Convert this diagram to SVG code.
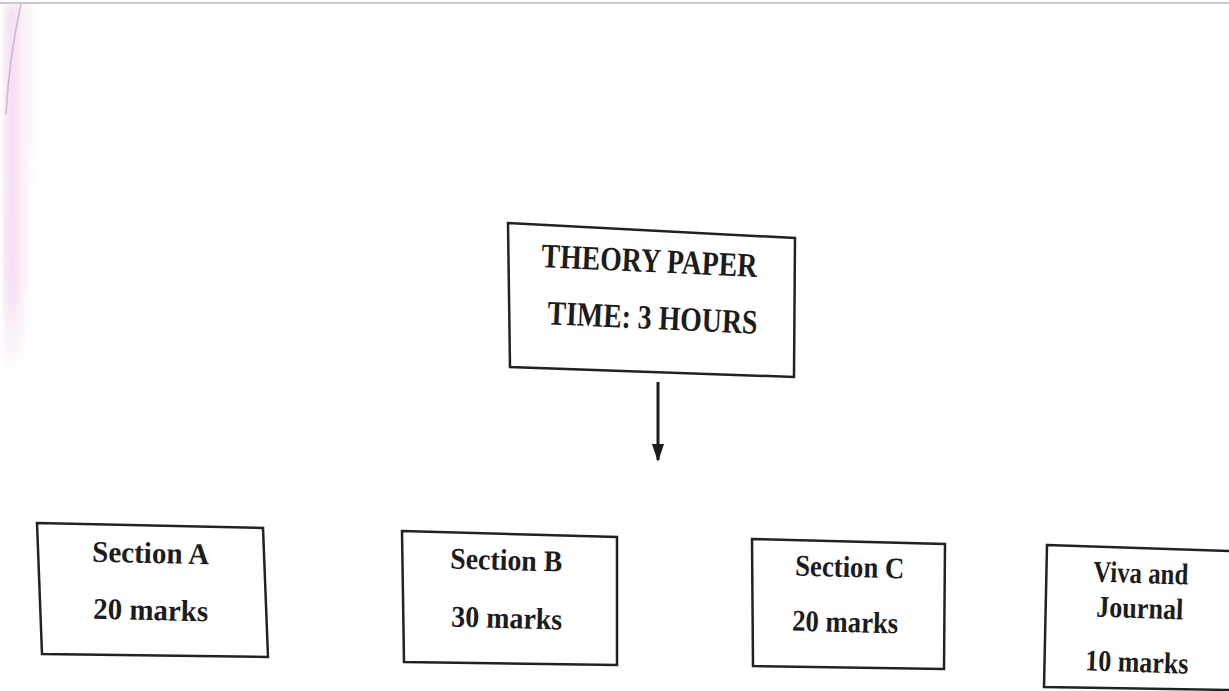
<svg xmlns="http://www.w3.org/2000/svg" width="1229" height="691" viewBox="0 0 1229 691">
<defs>
<style>
.box{fill:#ffffff;stroke:#222222;stroke-width:2.5;stroke-linejoin:miter}
.t{font-family:"Liberation Serif","Times New Roman",serif;font-weight:bold;fill:#1c1c1c;text-anchor:middle}
.big{font-size:34px}
.sm{font-size:30px}
.edge{fill:none;stroke:#c9c9c9;stroke-width:2}
</style>
<linearGradient id="pink" x1="0" y1="0" x2="1" y2="0">
<stop offset="0" stop-color="#eecbea" stop-opacity="0.9"/>
<stop offset="1" stop-color="#f8ecf6" stop-opacity="0"/>
</linearGradient>
<linearGradient id="fadeV" x1="0" y1="0" x2="0" y2="1">
<stop offset="0" stop-color="#fff" stop-opacity="1"/>
<stop offset="0.75" stop-color="#fff" stop-opacity="1"/>
<stop offset="1" stop-color="#fff" stop-opacity="0"/>
</linearGradient>
<mask id="pm">
<rect x="0" y="0" width="80" height="380" fill="url(#fadeV)"/>
</mask>
<filter id="blur" x="-50%" y="-10%" width="200%" height="120%">
<feGaussianBlur stdDeviation="4"/>
</filter>
<marker id="ah" viewBox="0 0 10 10" refX="9" refY="5" markerWidth="6" markerHeight="6" orient="auto" markerUnits="strokeWidth">
<path d="M0,1.6 L10,5 L0,8.4 Z" fill="#1c1c1c"/>
</marker>
</defs>
<rect width="1229" height="691" fill="#ffffff"/>
<g mask="url(#pm)">
<path d="M6,4 L40,4 C32,120 28,250 26,380 L5,380 C5,250 5,120 6,4 Z" fill="url(#pink)" filter="url(#blur)"/>
</g>
<path d="M21,4 C13,40 8,75 6,115" fill="none" stroke="#b396b0" stroke-width="1.5" opacity="0.6"/>
<line class="edge" x1="0" y1="3" x2="1229" y2="3"/>

<g id="connectors">
<line x1="658" y1="382" x2="658" y2="460" stroke="#1c1c1c" stroke-width="3" marker-end="url(#ah)"/>
</g>

<g id="theory">
<polygon class="box" points="508,223 795,238 794,377 510,367"/>
<text class="t big" x="649" y="272" textLength="216" lengthAdjust="spacingAndGlyphs" transform="rotate(2.6 649 272)">THEORY PAPER</text>
<text class="t big" x="652" y="329" textLength="210" lengthAdjust="spacingAndGlyphs" transform="rotate(2.6 652 329)">TIME: 3 HOURS</text>
</g>

<g id="sectionA">
<polygon class="box" points="37,523 263,528 268,657 42,654"/>
<text class="t sm" x="150.5" y="563" textLength="117" lengthAdjust="spacingAndGlyphs" transform="rotate(1.3 150.5 563)">Section A</text>
<text class="t sm" x="150.5" y="620" textLength="115" lengthAdjust="spacingAndGlyphs" transform="rotate(1.3 150.5 620)">20 marks</text>
</g>

<g id="sectionB">
<polygon class="box" points="402,531 617,537 617,665 404,662"/>
<text class="t sm" x="506" y="570" textLength="112" lengthAdjust="spacingAndGlyphs" transform="rotate(1.6 506 570)">Section B</text>
<text class="t sm" x="506.5" y="628" textLength="111" lengthAdjust="spacingAndGlyphs" transform="rotate(1.6 506.5 628)">30 marks</text>
</g>

<g id="sectionC">
<polygon class="box" points="752,539 945,544 944,669 753,666"/>
<text class="t sm" x="849.5" y="577" textLength="109" lengthAdjust="spacingAndGlyphs" transform="rotate(1.5 849.5 577)">Section C</text>
<text class="t sm" x="845" y="632" textLength="106" lengthAdjust="spacingAndGlyphs" transform="rotate(1.5 845 632)">20 marks</text>
</g>

<g id="viva">
<polygon class="box" points="1047,545 1232,551 1232,690 1044,687"/>
<text class="t sm" x="1140.5" y="583" textLength="95" lengthAdjust="spacingAndGlyphs" transform="rotate(1.9 1140.5 583)">Viva and</text>
<text class="t sm" x="1139.5" y="618" textLength="87" lengthAdjust="spacingAndGlyphs" transform="rotate(1.9 1139.5 618)">Journal</text>
<text class="t sm" x="1136.5" y="672" textLength="103" lengthAdjust="spacingAndGlyphs" transform="rotate(1.9 1136.5 672)">10 marks</text>
</g>
</svg>
